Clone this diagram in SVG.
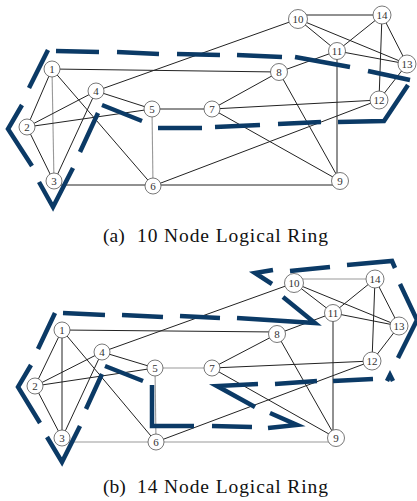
<svg xmlns="http://www.w3.org/2000/svg" width="417" height="501" viewBox="0 0 417 501">
<style>
.e{stroke:#222;stroke-width:1;fill:none}
.g{stroke:#999;stroke-width:1.1;fill:none}
.n circle{fill:#fff;stroke:#555;stroke-width:0.8}
.n text{font-family:"Liberation Serif",serif;font-size:11px;fill:#333;text-anchor:middle}
.ring{stroke:#0b3a66;stroke-width:4.5;fill:none;stroke-linejoin:miter;stroke-linecap:butt}
.cap{font-family:"Liberation Serif",serif;font-size:19.5px;fill:#111}
</style>
<rect width="417" height="501" fill="#fff"/>
<!-- Diagram (a) -->
<g id="connectors-a">
<line class="e" x1="52" y1="69" x2="279" y2="72"/>
<line class="g" x1="52" y1="69" x2="54" y2="182"/>
<line class="e" x1="52" y1="69" x2="27" y2="127"/>
<line class="e" x1="52" y1="69" x2="153" y2="186"/>
<line class="e" x1="27" y1="127" x2="96" y2="91"/>
<line class="e" x1="27" y1="127" x2="152" y2="109"/>
<line class="e" x1="27" y1="127" x2="54" y2="182"/>
<line class="e" x1="54" y1="182" x2="96" y2="91"/>
<line class="e" x1="54" y1="185" x2="153" y2="185"/>
<line class="e" x1="153" y1="185" x2="340" y2="185"/>
<line class="e" x1="96" y1="91" x2="298" y2="19"/>
<line class="e" x1="96" y1="91" x2="152" y2="109"/>
<line class="g" x1="152" y1="109" x2="153" y2="186"/>
<line class="e" x1="152" y1="109" x2="212" y2="109"/>
<line class="e" x1="153" y1="186" x2="379" y2="100"/>
<line class="e" x1="212" y1="109" x2="279" y2="72"/>
<line class="e" x1="212" y1="109" x2="379" y2="100"/>
<line class="e" x1="212" y1="109" x2="340" y2="181"/>
<line class="e" x1="279" y1="72" x2="337" y2="51"/>
<line class="e" x1="279" y1="72" x2="340" y2="181"/>
<line class="e" x1="337" y1="51" x2="337" y2="181"/>
<line class="e" x1="298" y1="15" x2="382" y2="15"/>
<line class="e" x1="298" y1="19" x2="337" y2="51"/>
<line class="e" x1="298" y1="19" x2="407" y2="64"/>
<line class="e" x1="337" y1="51" x2="382" y2="15"/>
<line class="e" x1="337" y1="51" x2="407" y2="64"/>
<line class="e" x1="382" y1="15" x2="379" y2="100"/>
<line class="e" x1="382" y1="15" x2="407" y2="64"/>
<line class="e" x1="379" y1="100" x2="407" y2="64"/>
</g>
<g id="nodes-a" class="n">
<g id="a-n1"><circle cx="52" cy="69" r="8"/><text x="52" y="73">1</text></g>
<g id="a-n2"><circle cx="27" cy="127" r="8"/><text x="27" y="131">2</text></g>
<g id="a-n3"><circle cx="54" cy="181" r="8"/><text x="54" y="185">3</text></g>
<g id="a-n4"><circle cx="96" cy="91" r="8"/><text x="96" y="95">4</text></g>
<g id="a-n5"><circle cx="152" cy="109" r="8"/><text x="152" y="113">5</text></g>
<g id="a-n6"><circle cx="153" cy="186" r="8"/><text x="153" y="190">6</text></g>
<g id="a-n7"><circle cx="212" cy="109" r="8"/><text x="212" y="113">7</text></g>
<g id="a-n8"><circle cx="279" cy="72" r="8.5"/><text x="279" y="76">8</text></g>
<g id="a-n9"><circle cx="340" cy="181" r="8.5"/><text x="340" y="185">9</text></g>
<g id="a-n10"><circle cx="298" cy="19" r="9.5"/><text x="298" y="23">10</text></g>
<g id="a-n11"><circle cx="337" cy="51" r="8.5"/><text x="337" y="55">11</text></g>
<g id="a-n12"><circle cx="379" cy="100" r="9"/><text x="379" y="104">12</text></g>
<g id="a-n13"><circle cx="407" cy="64" r="9"/><text x="407" y="68">13</text></g>
<g id="a-n14"><circle cx="382" cy="15" r="9"/><text x="382" y="19">14</text></g>
</g>
<g id="ring-a">
<path class="ring" d="M48,50 L29,88 M22,105 L8,129 L32,166 M39,182 L53,207 L73,168 M80,152 L98,113 M102,105 L142,121 M158,128 L202,128 M215,127 L260,125 M278,124 L321,122 M338,122 L384,121 L408,85 M56,51 L99,52 M117,52 L159,54 M177,54 L220,55 M237,55 L282,57 M295,57 L350,67 M368,71 L410,80"/>
</g>
<text class="cap" x="103" y="242">(a)</text>
<text class="cap" x="137" y="242" textLength="191" lengthAdjust="spacing">10 Node Logical Ring</text>
<!-- Diagram (b) -->
<g id="connectors-b">
<line class="e" x1="62" y1="330" x2="277" y2="332"/>
<line class="e" x1="62" y1="330" x2="62" y2="438"/>
<line class="e" x1="62" y1="330" x2="35" y2="386"/>
<line class="e" x1="62" y1="330" x2="156" y2="442"/>
<line class="e" x1="35" y1="386" x2="102" y2="352"/>
<line class="e" x1="35" y1="386" x2="155" y2="368"/>
<line class="e" x1="35" y1="386" x2="62" y2="438"/>
<line class="e" x1="62" y1="438" x2="102" y2="352"/>
<line class="g" x1="62" y1="442" x2="156" y2="442"/>
<line class="g" x1="156" y1="442" x2="336" y2="442"/>
<line class="e" x1="102" y1="352" x2="294" y2="283"/>
<line class="e" x1="102" y1="352" x2="155" y2="368"/>
<line class="g" x1="155" y1="368" x2="156" y2="442"/>
<line class="g" x1="155" y1="368" x2="212" y2="368"/>
<line class="e" x1="156" y1="442" x2="372" y2="361"/>
<line class="e" x1="212" y1="368" x2="277" y2="334"/>
<line class="e" x1="212" y1="368" x2="372" y2="361"/>
<line class="e" x1="212" y1="368" x2="336" y2="438"/>
<line class="e" x1="277" y1="334" x2="333" y2="313"/>
<line class="e" x1="277" y1="334" x2="336" y2="438"/>
<line class="e" x1="333" y1="313" x2="333" y2="438"/>
<line class="g" x1="294" y1="279" x2="375" y2="279"/>
<line class="e" x1="294" y1="283" x2="333" y2="313"/>
<line class="e" x1="294" y1="283" x2="399" y2="326"/>
<line class="e" x1="333" y1="313" x2="375" y2="279"/>
<line class="e" x1="333" y1="313" x2="399" y2="326"/>
<line class="e" x1="375" y1="279" x2="372" y2="361"/>
<line class="e" x1="375" y1="279" x2="399" y2="326"/>
<line class="e" x1="372" y1="361" x2="399" y2="326"/>
</g>
<g id="nodes-b" class="n">
<g id="b-n1"><circle cx="62" cy="330" r="8"/><text x="62" y="334">1</text></g>
<g id="b-n2"><circle cx="35" cy="386" r="8"/><text x="35" y="390">2</text></g>
<g id="b-n3"><circle cx="62" cy="438" r="8"/><text x="62" y="442">3</text></g>
<g id="b-n4"><circle cx="102" cy="352" r="8"/><text x="102" y="356">4</text></g>
<g id="b-n5"><circle cx="155" cy="368" r="8"/><text x="155" y="372">5</text></g>
<g id="b-n6"><circle cx="156" cy="442" r="8"/><text x="156" y="446">6</text></g>
<g id="b-n7"><circle cx="212" cy="368" r="8"/><text x="212" y="372">7</text></g>
<g id="b-n8"><circle cx="277" cy="334" r="8.5"/><text x="277" y="338">8</text></g>
<g id="b-n9"><circle cx="336" cy="438" r="8.5"/><text x="336" y="442">9</text></g>
<g id="b-n10"><circle cx="294" cy="283" r="9.5"/><text x="294" y="287">10</text></g>
<g id="b-n11"><circle cx="333" cy="313" r="8.5"/><text x="333" y="317">11</text></g>
<g id="b-n12"><circle cx="372" cy="361" r="9"/><text x="372" y="365">12</text></g>
<g id="b-n13"><circle cx="399" cy="326" r="9"/><text x="399" y="330">13</text></g>
<g id="b-n14"><circle cx="375" cy="279" r="9"/><text x="375" y="283">14</text></g>
</g>
<g id="ring-b">
<path class="ring" d="M55,313 L38,349 M63,313 L105,315 M122,315 L163,317 M180,316 L220,318 M237,318 L315,323 L283,297 M272,284 L255,273 L273,270 M290,271 L330,267 M347,265 L392,261 L395,268 M400,284 L417,320 L398,358 M387,381 L390,375 L393,381 M373,379 L333,381 M317,381 L275,384 M258,384 L217,386 L255,407 M270,413 L297,425 L268,428 M252,427 L212,426 M194,426 L152,426 L152,385 M143,381 L105,366 M102,374 L86,409 M80,426 L62,462 L47,437 M40,423 L18,387 L31,365"/>
</g>
<text class="cap" x="103" y="493">(b)</text>
<text class="cap" x="137" y="493" textLength="191" lengthAdjust="spacing">14 Node Logical Ring</text>
</svg>
